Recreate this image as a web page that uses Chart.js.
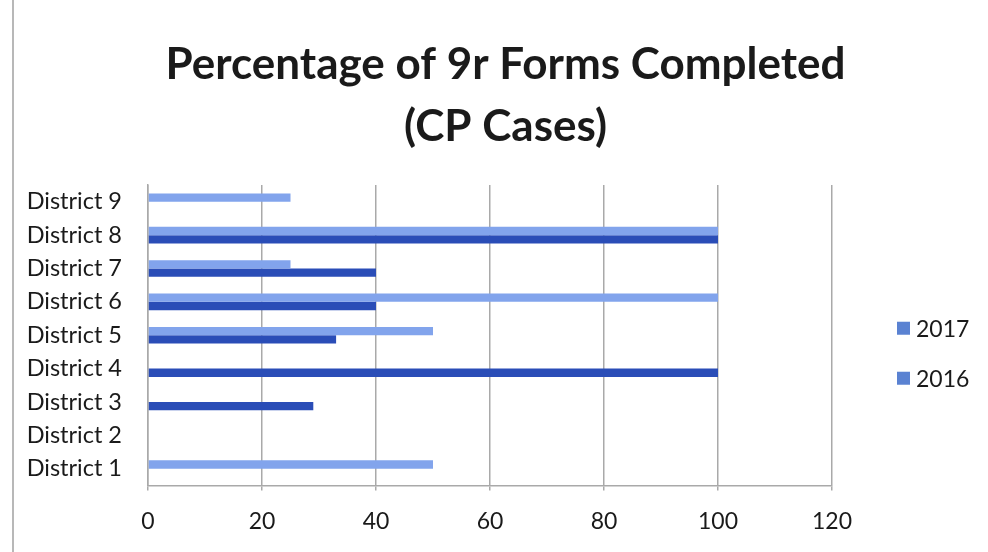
<!DOCTYPE html>
<html>
<head>
<meta charset="utf-8">
<script src="https://cdn.jsdelivr.net/npm/chart.js@4.4.1/dist/chart.umd.min.js"></script>
<style>
  html, body { margin: 0; padding: 0; background: #fff; }
  #wrap { position: relative; width: 988px; height: 552px; }
  #frame { position: absolute; left: 12px; top: 0; width: 2px; height: 552px; background: #b8b8b8; }
  canvas { position: absolute; left: 0; top: 0; }
</style>
</head>
<body>
<div id="wrap">
  <canvas id="chart" width="988" height="552"></canvas>
  <div id="frame"></div>
</div>
<script>
// Districts, bottom to top
const categories = ['District 1', 'District 2', 'District 3', 'District 4', 'District 5',
                    'District 6', 'District 7', 'District 8', 'District 9'];
// Percentage of 9r forms completed for CP cases
const values2016 = [50, 0, 0, 0, 50, 100, 25, 100, 25];
const values2017 = [0, 0, 29, 100, 33, 40, 40, 100, 0];
const xTicks = [0, 20, 40, 60, 80, 100, 120];
const titleLines = ['Percentage of 9r Forms Completed', '(CP Cases)'];

const FONT = 'Lato, "Open Sans", sans-serif';

// Side legend as a layout box on the right: reserves the space and lists
// the years (newest first) with a square swatch each
const sideLegend = {
  id: 'sideLegend',
  beforeInit(chart, args, opts) {
    const box = {
      position: 'right',
      weight: 1000,
      fullSize: false,
      options: {},
      isHorizontal() { return false; },
      update(maxWidth, maxHeight) {
        this.width = opts.width;
        this.height = maxHeight;
        return { width: this.width, height: this.height };
      },
      draw() {
        const ctx = chart.ctx;
        const area = chart.chartArea;
        const items = chart.data.datasets.slice().reverse();
        const mid = (area.top + area.bottom) / 2 + opts.shift;
        ctx.save();
        ctx.font = `${opts.fontSize}px ${FONT}`;
        ctx.textBaseline = 'middle';
        ctx.textAlign = 'left';
        items.forEach((ds, i) => {
          const y = mid + (i - (items.length - 1) / 2) * opts.spacing;
          const x = this.left + opts.inset;
          ctx.fillStyle = opts.swatch;
          ctx.fillRect(x, y - opts.box / 2, opts.box, opts.box);
          ctx.fillStyle = '#1a1a1a';
          ctx.fillText(ds.label, x + opts.box + opts.gap, y + 1);
        });
        ctx.restore();
      }
    };
    Chart.layouts.addBox(chart, box);
  }
};

new Chart(document.getElementById('chart'), {
  type: 'bar',
  data: {
    labels: categories,
    datasets: [
      { label: '2016', data: values2016, backgroundColor: '#82a4ec' },
      { label: '2017', data: values2017, backgroundColor: '#2a4db7' }
    ]
  },
  options: {
    indexAxis: 'y',
    responsive: false,
    animation: false,
    categoryPercentage: 0.5,
    barPercentage: 1.0,
    layout: { padding: { left: 23, right: 0, top: 34, bottom: 0 } },
    scales: {
      x: {
        min: 0, max: 120,
        afterBuildTicks(axis) { axis.ticks = xTicks.map(v => ({ value: v })); },
        grid: { color: '#a9a9a9', lineWidth: 1.5, tickLength: 5, drawTicks: true },
        border: { display: true, color: '#a9a9a9', width: 1.5 },
        ticks: { font: { family: FONT, size: 23 }, color: '#1a1a1a', padding: 17 }
      },
      y: {
        reverse: true,
        grid: { display: false, drawTicks: false },
        border: { display: true, color: '#a9a9a9', width: 1.5 },
        ticks: { font: { family: FONT, size: 23.5 }, color: '#1a1a1a', padding: 26 },
        afterFit(axis) { axis.width = 125; }
      }
    },
    plugins: {
      legend: { display: false },
      tooltip: { enabled: false },
      title: {
        display: true,
        text: titleLines,
        font: { family: FONT, size: 44, weight: 'bold', lineHeight: 1.41 },
        color: '#1a1a1a',
        padding: { top: 0, bottom: 27 }
      },
      sideLegend: { width: 156, inset: 65, shift: 18, spacing: 50, box: 13, gap: 6, fontSize: 23, swatch: '#5a82d2' }
    }
  },
  plugins: [sideLegend]
});
</script>
</body>
</html>
